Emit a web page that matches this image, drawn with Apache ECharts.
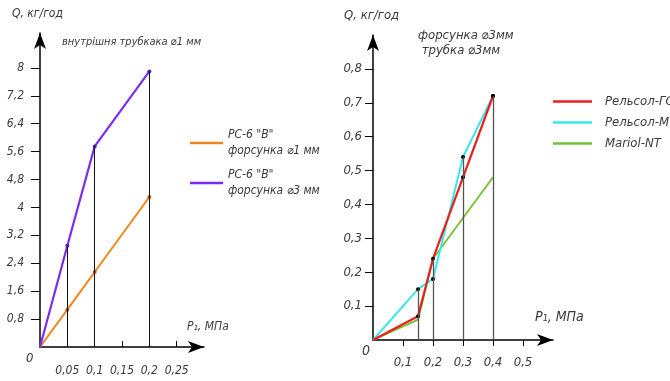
<!DOCTYPE html>
<html>
<head>
<meta charset="utf-8">
<script src="https://cdn.jsdelivr.net/npm/echarts@6/dist/echarts.min.js"></script>
<style>
  html, body { margin: 0; padding: 0; background: #fff; }
  #chart { width: 670px; height: 381px; }
</style>
</head>
<body>
<div id="chart"></div>
<script>
var myChart = echarts.init(document.getElementById('chart'));

// ліва діаграма
var pLeft = [0, 0.05, 0.1, 0.2];
var rs1 = [0, 1.07, 2.15, 4.3];   // РС-6 "В" форсунка ⌀1 мм
var rs3 = [0, 2.9, 5.75, 7.9];    // РС-6 "В" форсунка ⌀3 мм
var yTicksLeft = [0.8, 1.6, 2.4, 3.2, 4, 4.8, 5.6, 6.4, 7.2, 8];
var xTicksLeft = [0.05, 0.1, 0.15, 0.2, 0.25];
var namesLeft = ['РС-6 "В"\nфорсунка ⌀1 мм', 'РС-6 "В"\nфорсунка ⌀3 мм'];

// права діаграма
var pRight = [0, 0.15, 0.2, 0.3, 0.4];
var relGS = [0, 0.07, 0.24, 0.48, 0.72];
var relM = [0, 0.15, 0.18, 0.54, 0.72];
var mariol = [0, 0.06, 0.24, 0.36, 0.48];
var yTicksRight = [0.1, 0.2, 0.3, 0.4, 0.5, 0.6, 0.7, 0.8];
var xTicksRight = [0.1, 0.2, 0.3, 0.4, 0.5];
var namesRight = ['Рельсол-ГС', 'Рельсол-М', 'Mariol-NT'];

var font = 'DejaVu Sans Condensed, Liberation Sans Narrow, sans-serif';
var txt = '#3a3a3a';

// точки з окремим кольором маркера
function pairs(xs, ys, dot) {
    return xs.map(function (x, i) {
        var d = {value: [x, ys[i]]};
        if (dot) d.itemStyle = {color: dot};
        return d;
    });
}
// вертикальні лінії від осі до найвищої точки
function drops(xs, lists) {
    var res = [];
    for (var i = 1; i < xs.length; i++) {
        var top = Math.max.apply(null, lists.map(function (l) { return l[i]; }));
        res.push([{coord: [xs[i], 0]}, {coord: [xs[i], top]}]);
    }
    return res;
}
function comma(v) {
    return String(v).replace('.', ',');
}
function dotSize(v) {
    return v[0] === 0 ? 0 : 4;
}

var axisLine = {
    show: true,
    onZero: false,
    symbol: ['none', 'arrow'],
    symbolSize: [9, 16],
    lineStyle: {color: '#000', width: 1.5}
};

option = {
    animation: false,
    grid: [
        {left: 40, width: 164, top: 33, bottom: 34},
        {left: 373, width: 180, top: 35, bottom: 41}
    ],
    xAxis: [
        {
            type: 'value', gridIndex: 0, min: 0, max: 0.3,
            axisLine: axisLine,
            splitLine: {show: false},
            axisTick: {show: true, inside: true, length: 6, customValues: xTicksLeft, lineStyle: {color: '#000'}},
            axisLabel: {customValues: xTicksLeft, formatter: comma, color: txt, fontSize: 12, fontStyle: 'italic', fontFamily: font, margin: 18}
        },
        {
            type: 'value', gridIndex: 1, min: 0, max: 0.6,
            axisLine: axisLine,
            splitLine: {show: false},
            axisTick: {show: true, length: 6, customValues: xTicksRight, lineStyle: {color: '#000'}},
            axisLabel: {customValues: xTicksRight, formatter: comma, color: txt, fontSize: 13, fontStyle: 'italic', fontFamily: font, margin: 16}
        }
    ],
    yAxis: [
        {
            type: 'value', gridIndex: 0, min: 0, max: 9,
            axisLine: axisLine,
            splitLine: {show: false},
            axisTick: {show: true, length: 9, customValues: yTicksLeft, lineStyle: {color: '#000'}},
            axisLabel: {customValues: yTicksLeft, formatter: comma, color: txt, fontSize: 12, fontStyle: 'italic', fontFamily: font, margin: 16}
        },
        {
            type: 'value', gridIndex: 1, min: 0, max: 0.9,
            axisLine: axisLine,
            splitLine: {show: false},
            axisTick: {show: true, length: 8, customValues: yTicksRight, lineStyle: {color: '#000'}},
            axisLabel: {customValues: yTicksRight, formatter: comma, color: txt, fontSize: 13, fontStyle: 'italic', fontFamily: font, margin: 11}
        }
    ],
    legend: [
        {
            data: namesLeft, orient: 'vertical', left: 185, top: 122,
            icon: 'rect', itemWidth: 33, itemHeight: 2.5, itemGap: 8,
            textStyle: {color: txt, fontSize: 12, fontStyle: 'italic', fontFamily: font, lineHeight: 16}
        },
        {
            data: namesRight, orient: 'vertical', left: 548, top: 90,
            icon: 'rect', itemWidth: 39, itemHeight: 2.5, itemGap: 8,
            textStyle: {color: txt, fontSize: 13, fontStyle: 'italic', fontFamily: font, padding: [0, 0, 0, 8]}
        }
    ],
    graphic: [
        {type: 'text', left: 12, top: 8, style: {text: 'Q, кг/год', fill: txt, font: 'italic 12px ' + font}},
        {type: 'text', left: 62, top: 37, style: {text: 'внутрішня трубкака ⌀1 мм', fill: txt, font: 'italic 11px ' + font}},
        {type: 'text', left: 187, top: 321, style: {text: 'P₁, МПа', fill: txt, font: 'italic 12px ' + font}},
        {type: 'text', left: 26, top: 352, style: {text: '0', fill: txt, font: 'italic 13px ' + font}},
        {type: 'text', left: 344, top: 9, style: {text: 'Q, кг/год', fill: txt, font: 'italic 13px ' + font}},
        {type: 'text', left: 418, top: 28, style: {text: 'форсунка ⌀3мм\n трубка ⌀3мм', fill: txt, font: 'italic 13px ' + font, lineHeight: 15, align: 'center'}},
        {type: 'text', left: 535, top: 310, style: {text: 'P₁, МПа', fill: txt, font: 'italic 14px ' + font}},
        {type: 'text', left: 362, top: 344, style: {text: '0', fill: txt, font: 'italic 14px ' + font}}
    ],
    series: [
        {
            name: namesLeft[0], type: 'line', xAxisIndex: 0, yAxisIndex: 0,
            data: pairs(pLeft, rs1, '#b8601a'), color: '#f0851c',
            lineStyle: {width: 2, color: '#f0851c'}, symbol: 'circle', symbolSize: dotSize, z: 3
        },
        {
            name: namesLeft[1], type: 'line', xAxisIndex: 0, yAxisIndex: 0,
            data: pairs(pLeft, rs3, '#5a1cc0'), color: '#7a2cf0',
            lineStyle: {width: 2.2, color: '#7a2cf0'}, symbol: 'circle', symbolSize: dotSize, z: 4,
            markLine: {
                silent: true, symbol: 'none', label: {show: false},
                lineStyle: {color: '#111', width: 1, type: 'solid'},
                data: drops(pLeft, [rs1, rs3])
            }
        },
        {
            name: namesRight[2], type: 'line', xAxisIndex: 1, yAxisIndex: 1,
            data: pairs(pRight, mariol), color: '#72c02c',
            lineStyle: {width: 1.8, color: '#72c02c'}, showSymbol: false, z: 2,
            markLine: {
                silent: true, symbol: 'none', label: {show: false},
                lineStyle: {color: '#555', width: 1.3, type: 'solid'},
                data: drops(pRight, [relGS, relM, mariol])
            }
        },
        {
            name: namesRight[1], type: 'line', xAxisIndex: 1, yAxisIndex: 1,
            data: pairs(pRight, relM, '#000'), color: '#3ae6ee',
            lineStyle: {width: 2, color: '#3ae6ee'}, symbol: 'circle', symbolSize: dotSize, z: 3
        },
        {
            name: namesRight[0], type: 'line', xAxisIndex: 1, yAxisIndex: 1,
            data: pairs(pRight, relGS, '#000'), color: '#e8201c',
            lineStyle: {width: 2.2, color: '#e8201c'}, symbol: 'circle', symbolSize: dotSize, z: 4
        }
    ]
};
myChart.setOption(option);
</script>
</body>
</html>
